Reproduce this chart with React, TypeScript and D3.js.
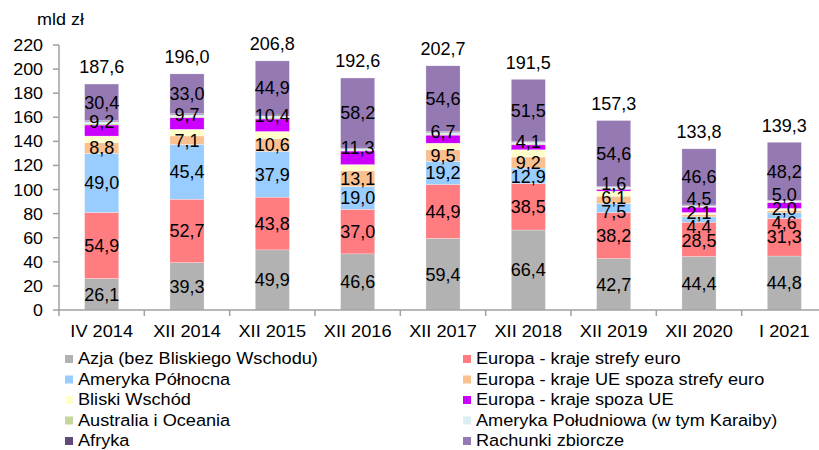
import React from "react";
import * as d3 from "d3";

const categories = ["IV 2014", "XII 2014", "XII 2015", "XII 2016", "XII 2017", "XII 2018", "XII 2019", "XII 2020", "I 2021"];
const totals = [187.6, 196.0, 206.8, 192.6, 202.7, 191.5, 157.3, 133.8, 139.3];

const seriesNames = [
  "Azja (bez Bliskiego Wschodu)",
  "Europa - kraje strefy euro",
  "Ameryka Północna",
  "Europa - kraje UE spoza strefy euro",
  "Bliski Wschód",
  "Europa - kraje spoza UE",
  "Australia i Oceania",
  "Ameryka Południowa (w tym Karaiby)",
  "Afryka",
  "Rachunki zbiorcze",
];
const seriesColors = ["#b2b2b2", "#ff7c80", "#99ccff", "#fac090", "#ffffcc", "#cc00ff", "#c3d69b", "#dbeef4", "#604a7b", "#9479b2"];

const azja = [26.1, 39.3, 49.9, 46.6, 59.4, 66.4, 42.7, 44.4, 44.8];
const europaEuro = [54.9, 52.7, 43.8, 37.0, 44.9, 38.5, 38.2, 28.5, 31.3];
const amerykaPn = [49.0, 45.4, 37.9, 19.0, 19.2, 12.9, 7.5, 4.4, 4.6];
const europaUeSpoza = [8.8, 7.1, 10.6, 13.1, 9.5, 9.2, 6.1, 2.1, 2.0];
const bliskiWschod = [5.6, 5.5, 6.0, 5.0, 5.5, 6.0, 4.2, 1.5, 1.6];
const europaSpozaUe = [9.2, 9.7, 10.4, 11.3, 6.7, 4.1, 1.6, 4.5, 5.0];
const australia = [1.0, 0.9, 0.9, 0.7, 0.8, 0.8, 0.6, 0.5, 0.5];
const amerykaPd = [1.8, 1.6, 1.6, 1.1, 1.4, 1.4, 1.2, 0.8, 0.8];
const afryka = [0.8, 0.8, 0.8, 0.6, 0.7, 0.7, 0.6, 0.5, 0.5];
const rachunki = [30.4, 33.0, 44.9, 58.2, 54.6, 51.5, 54.6, 46.6, 48.2];

const seriesValues = [azja, europaEuro, amerykaPn, europaUeSpoza, bliskiWschod, europaSpozaUe, australia, amerykaPd, afryka, rachunki];
const labeledSeries = [0, 1, 2, 3, 5, 9];
const yTicks = [0, 20, 40, 60, 80, 100, 120, 140, 160, 180, 200, 220];

const FONT = "'Liberation Sans', Arial, sans-serif";
const fmt = (v: number) => v.toFixed(1).replace(".", ",");

function T(props: { x: number; y: number; sx?: number; size: number; anchor?: string; dy?: string; children: any }) {
  const { x, y, sx = 1, size, anchor = "start", dy, children } = props;
  return (
    <text transform={`translate(${x},${y}) scale(${sx},1)`} fontSize={size} textAnchor={anchor} dy={dy} fill="#000">
      {children}
    </text>
  );
}

export default function App() {
  const W = 819, H = 450;
  const y = d3.scaleLinear().domain([0, 220]).range([310, 45]);
  const x = d3.scaleBand<string>().domain(categories).range([59, 827]).paddingInner(0.6).paddingOuter(0.3);
  const step = x.step();

  const rows = categories.map((c, i) => {
    const r: any = { cat: c };
    seriesValues.forEach((s, k) => (r["s" + k] = s[i]));
    return r;
  });
  const stack = d3.stack<any>().keys(seriesValues.map((_, k) => "s" + k))(rows);

  // label layout per bar
  const GAP = 14;
  const labels: { x: number; y: number; text: string }[] = [];
  categories.forEach((c, i) => {
    const items = labeledSeries.map((k) => {
      const seg = stack[k][i];
      const target = k === 5 ? y(seg[1]) - 3 : (y(seg[0]) + y(seg[1])) / 2;
      return { target, text: fmt(seriesValues[k][i]) };
    });
    let groups = items.map((it) => ({ items: [it], y: it.target }));
    let changed = true;
    while (changed) {
      changed = false;
      for (let g = 1; g < groups.length; g++) {
        const a = groups[g - 1], b = groups[g];
        const aTop = a.y - ((a.items.length - 1) / 2) * GAP;
        const bBottom = b.y + ((b.items.length - 1) / 2) * GAP;
        if (bBottom > aTop - GAP) {
          const its = a.items.concat(b.items);
          groups.splice(g - 1, 2, { items: its, y: d3.mean(its, (t) => t.target) as number });
          changed = true;
          break;
        }
      }
    }
    const cx = (x(c) as number) + x.bandwidth() / 2;
    groups.forEach((g) => {
      g.items.forEach((it, k) => {
        labels.push({ x: cx, y: g.y + ((g.items.length - 1) / 2 - k) * GAP, text: it.text });
      });
    });
  });

  const legendLeft = [0, 2, 4, 6, 8];
  const legendRight = [1, 3, 5, 7, 9];

  return (
    <svg width={W} height={H} style={{ position: "absolute", left: 0, top: 0, background: "#fff" }} fontFamily={FONT}>
      <rect width={W} height={H} fill="#fff" />
      <T x={37} y={25} size={16.5} sx={1.09}>mld zł</T>
      {/* bars */}
      {stack.map((layer, k) => (
        <g key={k} fill={seriesColors[k]}>
          {layer.map((seg, i) => (
            <rect key={i} x={x(categories[i])} y={y(seg[1])} width={x.bandwidth()} height={Math.max(0, y(seg[0]) - y(seg[1]))} stroke="#ffffff" strokeWidth={0.4} strokeOpacity={0.7} />
          ))}
        </g>
      ))}
      {/* y axis */}
      <line x1={59} x2={59} y1={y(220)} y2={y(0)} stroke="#a0a0a0" strokeWidth={1.5} />
      {yTicks.map((t) => (
        <g key={t}>
          <line x1={53} x2={59} y1={y(t)} y2={y(t)} stroke="#a0a0a0" strokeWidth={1.5} />
          <T x={43} y={y(t)} dy="0.35em" anchor="end" size={17} sx={1.05}>{t}</T>
        </g>
      ))}
      {/* x axis */}
      <line x1={59} x2={827} y1={y(0)} y2={y(0)} stroke="#a0a0a0" strokeWidth={1.5} />
      {d3.range(categories.length + 1).map((i) => (
        <line key={i} x1={59 + i * step} x2={59 + i * step} y1={y(0)} y2={y(0) + 6} stroke="#a0a0a0" strokeWidth={1.5} />
      ))}
      {categories.map((c) => (
        <T key={c} x={(x(c) as number) + x.bandwidth() / 2} y={337} anchor="middle" size={17} sx={1.07}>{c}</T>
      ))}
      {/* data labels */}
      {labels.map((l, i) => (
        <T key={i} x={l.x} y={l.y} dy="0.36em" anchor="middle" size={17.5} sx={1.03}>{l.text}</T>
      ))}
      {totals.map((t, i) => (
        <T key={"t" + i} x={(x(categories[i]) as number) + x.bandwidth() / 2} y={y(t) - 17} dy="0.36em" anchor="middle" size={17.5} sx={1.03}>{fmt(t)}</T>
      ))}
      {/* legend */}
      {[legendLeft, legendRight].map((col, ci) => (
        <g key={ci}>
          {col.map((k, r) => {
            const bx = ci === 0 ? 65 : 463;
            const by = 364 + r * 20.5;
            return (
              <g key={k}>
                <rect x={bx} y={by - 9} width={8} height={8} fill={seriesColors[k]} />
                <T x={bx + 13} y={by} size={16.5} sx={1.1}>{seriesNames[k]}</T>
              </g>
            );
          })}
        </g>
      ))}
    </svg>
  );
}
